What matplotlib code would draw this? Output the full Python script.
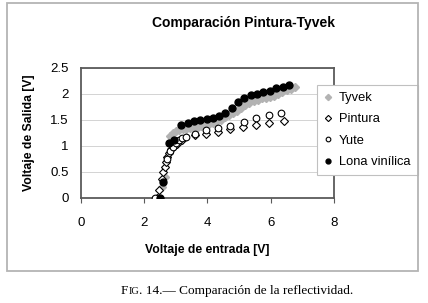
import matplotlib
matplotlib.use("Agg")
import matplotlib.pyplot as plt
from matplotlib.patches import Rectangle
from matplotlib.offsetbox import TextArea, HPacker, AnnotationBbox

plt.rcParams["font.family"] = ["Liberation Sans", "DejaVu Sans"]

# datos
tyvek_x = [2.45, 2.58, 2.66, 2.82, 2.92, 3.02, 3.12, 3.22, 3.33, 3.45, 3.57, 3.69,
           3.81, 3.93, 4.05, 4.17, 4.30, 4.42, 4.55, 4.68, 4.81, 4.94, 5.07, 5.20,
           5.33, 5.46, 5.59, 5.72, 5.85, 5.98, 6.11, 6.24, 6.37, 6.50, 6.63, 6.76]
tyvek_y = [0.0, 0.2, 0.39, 1.18, 1.24, 1.27, 1.29, 1.31, 1.32, 1.33, 1.34, 1.35,
           1.37, 1.39, 1.41, 1.44, 1.47, 1.50, 1.54, 1.58, 1.62, 1.67, 1.72, 1.77,
           1.81, 1.85, 1.88, 1.91, 1.92, 1.93, 1.95, 1.99, 2.03, 2.06, 2.08, 2.12]

pintura_x = [2.42, 2.47, 2.56, 2.61, 2.65, 2.69, 2.74, 2.80, 2.86, 2.95, 3.05, 3.20,
             3.60, 3.97, 4.34, 4.73, 5.13, 5.55, 5.94, 6.42]
pintura_y = [0.0, 0.14, 0.35, 0.50, 0.59, 0.68, 0.78, 0.85, 0.94, 1.00, 1.03, 1.10,
             1.20, 1.22, 1.26, 1.31, 1.35, 1.40, 1.44, 1.47]

yute_x = [2.34, 2.72, 2.83, 2.92, 3.01, 3.10, 3.20, 3.32, 3.60, 3.97, 4.34, 4.73,
          5.15, 5.55, 5.94, 6.34]
yute_y = [0.0, 0.75, 0.90, 0.98, 1.04, 1.10, 1.14, 1.17, 1.22, 1.30, 1.33, 1.37,
          1.46, 1.52, 1.58, 1.63]

lona_x = [2.50, 2.59, 2.78, 2.95, 3.17, 3.38, 3.57, 3.78, 3.98, 4.18, 4.38, 4.57,
          4.77, 4.97, 5.17, 5.37, 5.56, 5.76, 5.97, 6.17, 6.38, 6.57]
lona_y = [0.0, 0.30, 1.05, 1.10, 1.39, 1.43, 1.47, 1.49, 1.51, 1.52, 1.57, 1.63,
          1.72, 1.83, 1.92, 1.97, 2.00, 2.02, 2.04, 2.10, 2.12, 2.17]

x_ticks = [0, 2, 4, 6, 8]
y_ticks = [0, 0.5, 1, 1.5, 2, 2.5]
y_tick_labels = ["0", "0.5", "1", "1.5", "2", "2.5"]

W, H = 428, 303
fig = plt.figure(figsize=(W / 100, H / 100), dpi=100)
ax = fig.add_axes([80.7 / W, 1 - 197.5 / H, 253.3 / W, 130 / H])

# borde del area del grafico
fig.patches.append(Rectangle((7 / W, 1 - 271 / H), 411 / W, 268 / H,
                             transform=fig.transFigure, fill=False,
                             edgecolor="#b4b4b4", linewidth=1.3))

ax.plot(tyvek_x, tyvek_y, linestyle="none", marker="D", markersize=4.5,
        color="#b3b3b3", markeredgecolor="#b3b3b3", label="Tyvek", zorder=3)
ax.plot(pintura_x, pintura_y, linestyle="none", marker="D", markersize=4.5,
        markerfacecolor="white", markeredgecolor="black", markeredgewidth=0.8,
        label="Pintura", zorder=4)
ax.plot(yute_x, yute_y, linestyle="none", marker="o", markersize=4.8,
        markerfacecolor="white", markeredgecolor="black", markeredgewidth=0.8,
        label="Yute", zorder=4)
ax.plot(lona_x, lona_y, linestyle="none", marker="o", markersize=5.0,
        color="black", label="Lona vinílica", zorder=5)

ax.set_xlim(0, 8)
ax.set_ylim(0, 2.5)
ax.set_xticks(x_ticks)
ax.set_yticks(y_ticks)
ax.set_yticklabels(y_tick_labels)
ax.yaxis.grid(True, color="#cccccc", linewidth=0.6)
ax.set_axisbelow(True)
for s in ax.spines.values():
    s.set_color("#5a5a5a")
    s.set_linewidth(1.3)
ax.tick_params(axis="x", length=3.5, width=0.8, color="#5a5a5a", pad=10.5,
               labelsize=9.5)
ax.tick_params(axis="y", length=0, pad=8.5, labelsize=9.5)

ax.set_xlabel("Voltaje de entrada [V]", fontsize=8.8, fontweight="bold")
ax.set_ylabel("Voltaje de Salida [V]", fontsize=8.8, fontweight="bold")
ax.xaxis.set_label_coords(0.5, -0.355)
ax.yaxis.set_label_coords(-0.18, 0.5)

fig.text(243 / W, 1 - 23 / H, "Comparación Pintura-Tyvek", ha="center",
         va="center", fontsize=10, fontweight="bold")

leg = ax.legend(loc="upper left", bbox_to_anchor=(317 / W, 1 - 85 / H),
                bbox_transform=fig.transFigure, fontsize=9.3, frameon=True,
                fancybox=False, edgecolor="#c0c0c0", framealpha=1,
                borderpad=0.55, labelspacing=0.72, handlelength=0.6,
                handletextpad=0.55, borderaxespad=0, markerscale=0.7)
leg.get_frame().set_linewidth(0.8)

# pie de figura con versalitas
serif = ["Liberation Serif", "DejaVu Serif"]
parts = [TextArea("F", textprops=dict(family=serif, size=9.5)),
         TextArea("IG", textprops=dict(family=serif, size=7.4)),
         TextArea(". 14.— Comparación de la reflectividad.",
                  textprops=dict(family=serif, size=9.5))]
cap = HPacker(children=parts, align="baseline", pad=0, sep=0)
fig.add_artist(AnnotationBbox(cap, (237 / W, 1 - 291 / H),
                              xycoords="figure fraction", frameon=False,
                              box_alignment=(0.5, 0.5)))

fig.savefig("out.png", dpi=100)
